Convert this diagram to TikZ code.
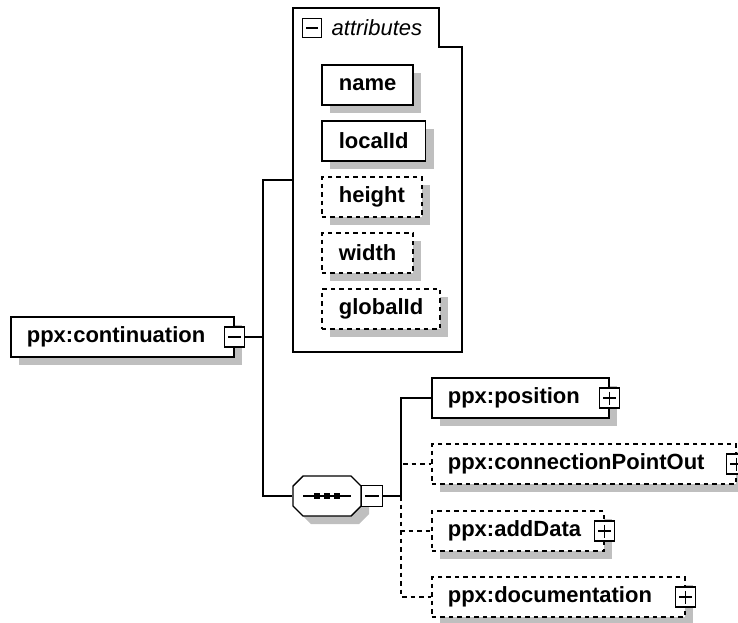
\documentclass[tikz,border=0pt]{standalone}
\usepackage{fontspec}
\setmainfont{Liberation Sans}
\usetikzlibrary{shadows}

\begin{document}
\begin{tikzpicture}[x=1pt,y=-1pt,line width=1.4pt,
  lbl/.style={font=\bfseries\fontsize{22}{24}\selectfont},
  shade/.style={drop shadow={shadow xshift=8pt,shadow yshift=-8pt,fill=black!25,opacity=1}},
  dsh/.style={dash pattern=on 4.5pt off 4pt},
  box/.style={lbl,draw,fill=white,line width=1.7pt,minimum height=40pt,inner xsep=17pt,anchor=west,shade},
  optbox/.style={box,dsh},
  elem/.style={box,inner xsep=16pt,text width=#1,align=left},
  optelem/.style={elem=#1,dsh},
  minus/.style={draw,fill=white,line width=1.4pt,minimum size=20pt,inner sep=0pt,
    path picture={\draw[line width=1.4pt] ([xshift=3.5pt]path picture bounding box.west) -- ([xshift=-3.5pt]path picture bounding box.east);}},
  plus/.style={minus,
    path picture={\draw[line width=1.4pt] ([xshift=3.5pt]path picture bounding box.west) -- ([xshift=-3.5pt]path picture bounding box.east)
      ([yshift=-3.5pt]path picture bounding box.north) -- ([yshift=3.5pt]path picture bounding box.south);}},
  seqbox/.style={minimum width=68pt,minimum height=40pt,inner sep=0pt}]
  \useasboundingbox (0,0) rectangle (738,623);

  \draw[line width=1.7pt,fill=white] (293,8) -- (439,8) -- (439,47) -- (462,47) -- (462,352) -- (293,352) -- cycle;
  \coordinate (attrs) at (293,180);
  \node[minus,minimum size=19pt] (attrI) at (312,28) {};
  \node[font=\itshape\fontsize{22}{24}\selectfont,anchor=west,inner sep=0pt] (attrT) at (331,28) {attributes};
  \foreach \y/\nm/\st in {85/name/box,141/localId/box,197/height/optbox,253/width/optbox,309/globalId/optbox}
    \node[\st] (\nm) at (321,\y) {\nm};

  \node[elem=191pt] (cont) at (10,337) {ppx:continuation};
  \node[minus] (contI) at (cont.east) {};

  \node[seqbox] (seq) at (327,496) {};
  \fill[black!25,shift={(8,8)}] (303,476) -- (351,476) -- (361,486) -- (361,506) -- (351,516) -- (303,516) -- (293,506) -- (293,486) -- cycle;
  \draw[fill=white] (303,476) -- (351,476) -- (361,486) -- (361,506) -- (351,516) -- (303,516) -- (293,506) -- (293,486) -- cycle;
  \draw ([xshift=-24pt]seq.center) -- ([xshift=24pt]seq.center);
  \foreach \dx in {-10,0,10}
    \fill ([xshift=\dx pt]seq.center) +(-3,-3) rectangle +(3,3);
  \node[minus,minimum size=21pt] (seqI) at ([xshift=10.5pt]seq.east) {};

  \node[elem=145pt] (pos) at (431,398) {ppx:position};
  \node[optelem=272pt] (cpo) at (431,464) {ppx:connectionPointOut};
  \node[optelem=140pt] (add) at (431,531) {ppx:addData};
  \node[optelem=221pt] (doc) at (431,597) {ppx:documentation};
  \foreach \n in {pos,cpo,add,doc}
    \node[plus] (\n I) at (\n.east) {};

  \coordinate (br1) at (263,337);
  \coordinate (br2) at (401,496);
  \draw (contI.east) -- (br1) |- (attrs);
  \draw (br1) |- (seq.west);
  \draw (seqI.east) -- (br2) |- (pos.west);
  \draw[dsh] (br2) |- (cpo.west) (br2) |- (add.west) (br2) |- (doc.west);
\end{tikzpicture}
\end{document}
